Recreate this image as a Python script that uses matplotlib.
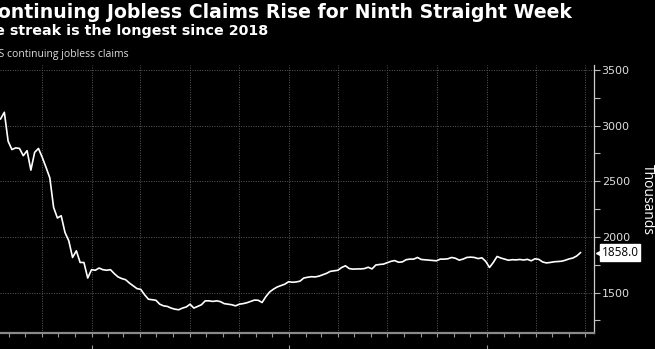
import matplotlib.pyplot as plt
import matplotlib.dates as mdates
import matplotlib.transforms as mtransforms
import numpy as np
import pandas as pd

# weekly continuing claims, thousands (weeks ending Saturday)
last_week = "2024-06-22"
claims = [
    3060, 3120, 2860, 2785, 2800, 2795, 2730, 2775, 2600, 2760,
    2795, 2715, 2625, 2530, 2265, 2170, 2190, 2040, 1965, 1815,
    1875, 1770, 1770, 1630, 1705, 1700, 1720, 1705, 1700, 1705,
    1670, 1640, 1625, 1615, 1585, 1560, 1535, 1528, 1480, 1440,
    1435, 1430, 1395, 1380, 1375, 1360, 1350, 1345, 1360, 1370,
    1395, 1360, 1375, 1390, 1425, 1425, 1420, 1425, 1418, 1400,
    1395, 1390, 1380, 1395, 1400, 1408, 1420, 1432, 1430, 1410,
    1463, 1505, 1530, 1550, 1562, 1575, 1597, 1592, 1595, 1602,
    1630, 1637, 1642, 1640, 1647, 1660, 1672, 1690, 1695, 1700,
    1725, 1740, 1715, 1710, 1712, 1712, 1715, 1727, 1712, 1747,
    1752, 1755, 1768, 1780, 1787, 1772, 1775, 1795, 1800, 1800,
    1815, 1797, 1794, 1792, 1788, 1785, 1800, 1800, 1803, 1815,
    1808, 1791, 1800, 1815, 1818, 1815, 1805, 1812, 1780, 1725,
    1770, 1824, 1810, 1800, 1790, 1795, 1793, 1797, 1792, 1798,
    1785, 1803, 1798, 1775, 1766, 1770, 1776, 1779, 1781, 1790,
    1802, 1810, 1828, 1858,
]
weeks = pd.date_range(end=last_week, periods=len(claims), freq="7D")

title = "Continuing Jobless Claims Rise for Ninth Straight Week"
subtitle = "The streak is the longest since 2018"
series_name = "US continuing jobless claims"
unit = "Thousands"
y_ticks = [1500, 2000, 2500, 3000, 3500]

W, H = 655, 349
fig = plt.figure(figsize=(W / 100, H / 100), dpi=100, facecolor="black")

# plot box in pixels: x 0..594, y 65..333 (from top)
ax = fig.add_axes([0, (H - 333) / H, 594 / W, (333 - 65) / H], facecolor="black")
ax.plot(weeks, claims, color="white", lw=1.2, solid_joinstyle="round")

ax.set_xlim(pd.Timestamp("2021-07-16"), pd.Timestamp("2024-07-17"))
ax.set_ylim(1136, 3545)

ax.yaxis.tick_right()
ax.set_yticks(y_ticks)
ax.set_yticks(np.arange(1250, 3500, 500), minor=True)
ax.tick_params(axis="y", which="both", colors="#bbbbbb", labelcolor="#dddddd",
               labelsize=8, length=4, width=0.8, pad=1.5)

ax.xaxis.set_major_locator(mdates.MonthLocator(bymonth=[1, 4, 7, 10]))
ax.xaxis.set_minor_locator(mdates.MonthLocator())
ax.tick_params(axis="x", which="both", colors="#999999", length=3, width=0.8,
               labelbottom=False)

ax.grid(True, which="major", color="#5a5a5a", ls=(0, (1, 1.5)), lw=0.7)

for side in ("left", "top"):
    ax.spines[side].set_visible(False)
ax.spines["right"].set_color("#cccccc")
ax.spines["right"].set_linewidth(0.9)
ax.spines["bottom"].set_color("#8a8a8a")
ax.spines["bottom"].set_linewidth(1.6)

# year separators below the axis
yr = ax.secondary_xaxis(-0.045)
yr.xaxis.set_major_locator(mdates.YearLocator())
yr.tick_params(axis="x", colors="#999999", length=4, width=0.8, labelbottom=False)
yr.spines["bottom"].set_visible(False)

ax.text(647 / 594, 0.5, unit, transform=ax.transAxes, rotation=270, ha="center",
        va="center", color="white", fontsize=10, family="Open Sans")

# last value callout
last = claims[-1]
trans = mtransforms.blended_transform_factory(ax.transAxes, ax.transData)
ax.text(1.013, last, f"{last:.1f}", transform=trans, ha="left", va="center",
        fontsize=8.5, color="black", family="Open Sans",
        bbox=dict(boxstyle="square,pad=0.15", fc="white", ec="white"))
ax.plot([1.009], [last], marker="<", ms=5, color="white", transform=trans,
        clip_on=False)

fig.text(-16 / W, 1 - 12 / H, title, color="white", fontsize=13.6,
         fontweight="bold", family="DejaVu Sans", va="center", ha="left")
fig.text(-25 / W, 1 - 31 / H, subtitle, color="white", fontsize=10.3,
         fontweight="bold", family="DejaVu Sans", va="center", ha="left")
fig.text(-9 / W, 1 - 54 / H, series_name, color="#dddddd", fontsize=7.5,
         family="Open Sans", va="center", ha="left")

fig.savefig("out.png", dpi=100, facecolor="black")
